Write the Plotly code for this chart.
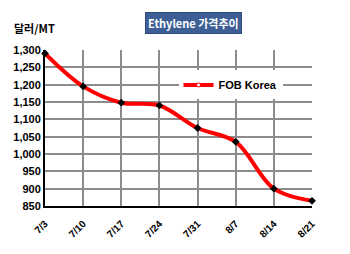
import plotly.graph_objects as go

dates = ["7/3", "7/10", "7/17", "7/24", "7/31", "8/7", "8/14", "8/21"]
prices = [1290, 1195, 1148, 1140, 1075, 1035, 900, 865]
y_ticks = [850, 900, 950, 1000, 1050, 1100, 1150, 1200, 1250, 1300]

xs = list(range(len(dates)))
font_main = "Liberation Sans, Arial, Noto Sans CJK KR, sans-serif"

fig = go.Figure()
fig.add_trace(go.Scatter(
    x=xs, y=prices, mode="lines", line=dict(color="#ff0000", width=4, shape="spline", smoothing=1.0),
    showlegend=False, cliponaxis=False))
fig.add_trace(go.Scatter(
    x=xs, y=prices, mode="markers", marker=dict(symbol="diamond", color="black", size=6),
    showlegend=False, cliponaxis=False))
fig.add_trace(go.Scatter(
    x=[None], y=[None], mode="lines+markers", name="<b>FOB Korea</b>",
    line=dict(color="#ff0000", width=4),
    marker=dict(symbol="circle", color="white", size=4, line=dict(color="#ff0000", width=1))))

fig.update_layout(
    width=350, height=254,
    margin=dict(l=45, r=38, t=50, b=48),
    paper_bgcolor="white", plot_bgcolor="white",
    font=dict(family=font_main, size=10, color="black"),
    showlegend=True,
    legend=dict(x=0.5, y=0.776, xanchor="left", yanchor="middle", bgcolor="white",
                font=dict(family=font_main, size=11, color="black"),
                itemwidth=30, tracegroupgap=0, borderwidth=0),
    xaxis=dict(range=[0, 7], tickmode="array", tickvals=xs,
               ticktext=[f"<b>{d}</b>" for d in dates],
               tickangle=-45, showgrid=True, gridcolor="#8c8c8c", gridwidth=1.5,
               showline=True, linecolor="black", linewidth=2, zeroline=False,
               ticks="", tickfont=dict(family=font_main, size=10, color="black")),
    yaxis=dict(range=[850, 1300], tickmode="array", tickvals=y_ticks,
               ticktext=[f"<b>{v:,}</b>" for v in y_ticks],
               showgrid=True, gridcolor="#8c8c8c", gridwidth=1.5,
               showline=True, linecolor="black", linewidth=2, zeroline=False,
               ticks="", ticklen=0, tickfont=dict(family=font_main, size=11, color="black")),
    annotations=[
        dict(text="<b>Ethylene 가격추이</b>", xref="paper", yref="paper", x=0.558, y=1.176,
             xanchor="center", yanchor="middle", showarrow=False,
             font=dict(family="Noto Sans CJK KR, sans-serif", size=11, color="white"),
             bgcolor="#3d5f95", bordercolor="#2e4a78", borderwidth=1, borderpad=2),
        dict(text="<b>달러/MT</b>", xref="paper", yref="paper", x=-0.04, y=1.14,
             xanchor="center", yanchor="middle", showarrow=False,
             font=dict(family="Noto Sans CJK KR, sans-serif", size=11, color="black")),
    ],
)
fig.update_xaxes(ticklabelstandoff=6)
fig.write_html("out.html")
